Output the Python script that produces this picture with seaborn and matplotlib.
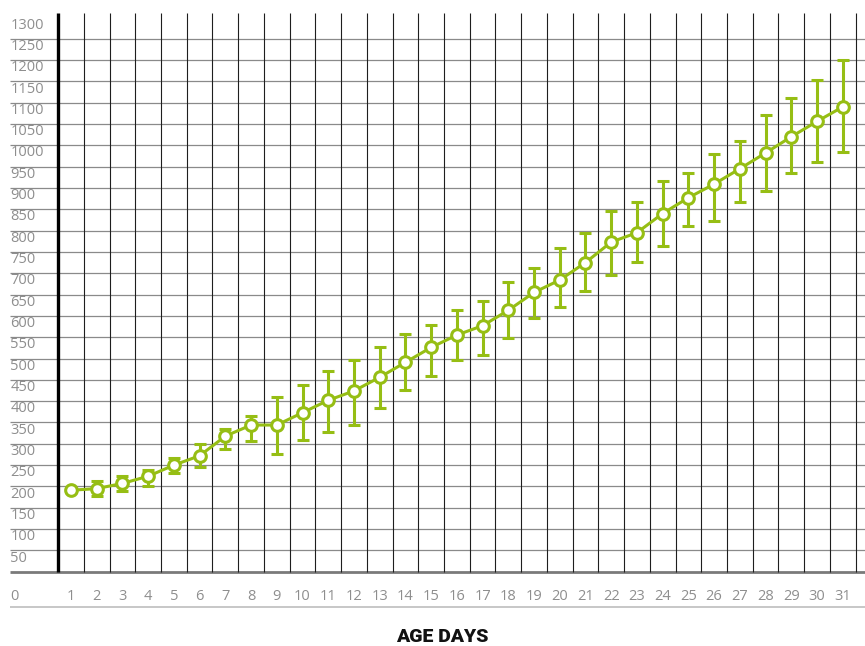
import matplotlib
matplotlib.use("Agg")
import matplotlib.pyplot as plt
import seaborn as sns
import pandas as pd

# age in days and mean weight with error range
days = list(range(1, 32))
weight = [191, 195, 207, 224, 250, 272, 318, 344, 344, 373, 402, 424, 456, 491, 526, 555,
          577, 613, 655, 684, 725, 773, 795, 840, 877, 909, 945, 982, 1020, 1056, 1090]
upper = [191, 213, 224, 238, 267, 299, 334, 366, 409, 437, 471, 496, 528, 557, 578, 613,
         635, 680, 712, 758, 795, 845, 867, 916, 934, 980, 1010, 1070, 1111, 1154, 1201]
lower = [191, 177, 189, 202, 231, 246, 287, 306, 275, 309, 327, 345, 385, 426, 459, 496,
         508, 547, 594, 621, 658, 697, 726, 763, 810, 823, 866, 893, 934, 961, 984]
y_labels = list(range(50, 1350, 50))
x_title = "AGE DAYS"

green = "#96be14"
label_grey = "#8e8e8e"

sns.set_style("white")
plt.rcParams['font.family'] = ['Open Sans', 'DejaVu Sans']

fig = plt.figure(figsize=(8.65, 6.46), dpi=100)
ax = fig.add_axes([10 / 865, 0.0582, 855 / 865, 0.9212])
x_lo, x_hi = -1.372, 31.867
y_lo, y_hi = -86, 1309.5
ax.set_xlim(x_lo, x_hi)
ax.set_ylim(y_lo, y_hi)
ax.axis("off")

# horizontal grid
ax.hlines(y_labels[:-1], x_lo, x_hi, colors="#8a8a8a", lw=0.9, zorder=1)
ax.hlines(0, x_lo, x_hi, colors="#7a7a7a", lw=2.0, zorder=1)
ax.hlines(-83, x_lo, x_hi, colors="#bdbdbd", lw=1.2, zorder=1)

# vertical grid
ax.vlines([d + 0.5 for d in days], 0, y_hi, colors="#1e1e1e", lw=0.8, zorder=2)
ax.vlines(0.5, 0, y_hi, colors="black", lw=2.4, zorder=2)

# y labels sit just below their line
for v in y_labels:
    ax.text(x_lo + 0.01, v - 18, str(v), ha="left", va="center",
            fontsize=10.5, color=label_grey)
ax.text(x_lo + 0.01, -57, "0", ha="left", va="center", fontsize=10.5, color=label_grey)
for d in days:
    ax.text(d, -57, str(d), ha="center", va="center", fontsize=10.5, color=label_grey)

# error bars
yerr = [[w - l for w, l in zip(weight, lower)], [u - w for u, w in zip(upper, weight)]]
ax.errorbar(days, weight, yerr=yerr, fmt="none", ecolor=green, elinewidth=2.2,
            capsize=4.3, capthick=2.2, zorder=3)

df = pd.DataFrame({"day": days, "weight": weight})
sns.lineplot(data=df, x="day", y="weight", ax=ax, color=green, lw=2.2,
             marker="o", markersize=8.4, markerfacecolor="white",
             markeredgecolor=green, markeredgewidth=2.2, zorder=4)

fig.text(442.5 / 865, (646 - 637.5) / 646, x_title, ha="center", va="center",
         fontsize=14, fontweight="heavy", color="#111111",
         family=["Liberation Sans Narrow", "Roboto", "DejaVu Sans"])

fig.savefig("out.png", dpi=100)
